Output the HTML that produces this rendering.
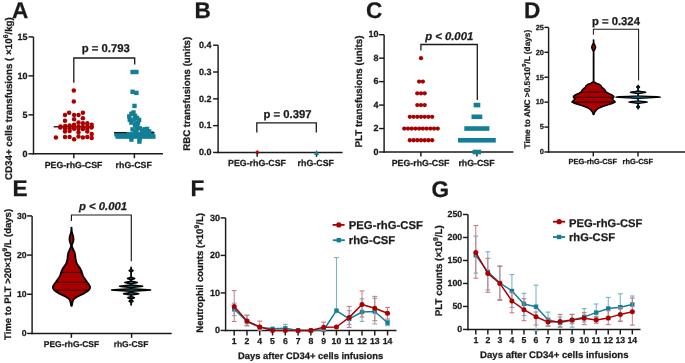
<!DOCTYPE html>
<html><head><meta charset="utf-8"><style>
html,body{margin:0;padding:0;background:#fff;overflow:hidden;}
svg{display:block;will-change:transform;}
text{font-family:"Liberation Sans", sans-serif;text-rendering:geometricPrecision;stroke:#1a1a1a;stroke-width:0.25px;paint-order:stroke;}
</style></head><body>
<svg width="685" height="363" viewBox="0 0 685 363">
<rect width="685" height="363" fill="#fff"/>
<text x="11.9" y="17.9" font-size="22.6" text-anchor="start" font-weight="bold" fill="#1a1a1a">A</text>
<text x="194.6" y="18.1" font-size="22.6" text-anchor="start" font-weight="bold" fill="#1a1a1a">B</text>
<text x="366.0" y="18.0" font-size="22.6" text-anchor="start" font-weight="bold" fill="#1a1a1a">C</text>
<text x="524.0" y="17.7" font-size="22.6" text-anchor="start" font-weight="bold" fill="#1a1a1a">D</text>
<text x="12.4" y="195.8" font-size="22.6" text-anchor="start" font-weight="bold" fill="#1a1a1a">E</text>
<text x="190.5" y="196.2" font-size="22.6" text-anchor="start" font-weight="bold" fill="#1a1a1a">F</text>
<text x="431.5" y="196.5" font-size="22.6" text-anchor="start" font-weight="bold" fill="#1a1a1a">G</text>
<line x1="33.50" y1="36.91" x2="33.50" y2="154.53" stroke="#1a1a1a" stroke-width="1.45"/>
<line x1="28.50" y1="153.80" x2="33.50" y2="153.80" stroke="#1a1a1a" stroke-width="1.45"/>
<text x="27.6" y="156.59" font-size="9.0" text-anchor="end" font-weight="bold" fill="#1a1a1a">0</text>
<line x1="28.50" y1="114.84" x2="33.50" y2="114.84" stroke="#1a1a1a" stroke-width="1.45"/>
<text x="27.6" y="117.62500000000001" font-size="9.0" text-anchor="end" font-weight="bold" fill="#1a1a1a">5</text>
<line x1="28.50" y1="75.87" x2="33.50" y2="75.87" stroke="#1a1a1a" stroke-width="1.45"/>
<text x="27.6" y="78.66000000000001" font-size="9.0" text-anchor="end" font-weight="bold" fill="#1a1a1a">10</text>
<line x1="28.50" y1="36.91" x2="33.50" y2="36.91" stroke="#1a1a1a" stroke-width="1.45"/>
<text x="27.6" y="39.695000000000014" font-size="9.0" text-anchor="end" font-weight="bold" fill="#1a1a1a">15</text>
<line x1="32.77" y1="153.80" x2="162.90" y2="153.80" stroke="#1a1a1a" stroke-width="1.45"/>
<line x1="73.80" y1="153.80" x2="73.80" y2="158.20" stroke="#1a1a1a" stroke-width="1.45"/>
<line x1="134.40" y1="153.80" x2="134.40" y2="158.20" stroke="#1a1a1a" stroke-width="1.45"/>
<text x="73.6" y="168.2" font-size="8.8" text-anchor="middle" font-weight="bold" fill="#1a1a1a">PEG-rhG-CSF</text>
<text x="133.7" y="168.2" font-size="8.8" text-anchor="middle" font-weight="bold" fill="#1a1a1a">rhG-CSF</text>
<text x="11.8" y="98.6" font-size="9.78" text-anchor="middle" font-weight="bold" fill="#1a1a1a" transform="rotate(-90 11.8 98.6)">CD34+ cells transfusions ( ×10<tspan font-size="70%" dy="-0.55em">6</tspan><tspan dy="0.385em">/kg)</tspan></text>
<text x="105.8" y="52.1" font-size="11.3" text-anchor="middle" font-weight="bold" fill="#1a1a1a">p = 0.793</text>
<path d="M73.8 82.8 V58 H134.7 V64.4" fill="none" stroke="#1a1a1a" stroke-width="1.3"/>
<line x1="53.70" y1="126.70" x2="93.90" y2="126.70" stroke="#2a2a2a" stroke-width="1.4"/>
<circle cx="69.10" cy="112.70" r="2.25" fill="#aa0000"/>
<circle cx="82.90" cy="112.70" r="2.25" fill="#aa0000"/>
<circle cx="65.00" cy="114.90" r="2.25" fill="#aa0000"/>
<circle cx="74.10" cy="114.90" r="2.25" fill="#aa0000"/>
<circle cx="78.50" cy="114.90" r="2.25" fill="#aa0000"/>
<circle cx="82.90" cy="118.20" r="2.25" fill="#aa0000"/>
<circle cx="65.00" cy="120.80" r="2.25" fill="#aa0000"/>
<circle cx="74.10" cy="119.30" r="2.25" fill="#aa0000"/>
<circle cx="78.50" cy="122.60" r="2.25" fill="#aa0000"/>
<circle cx="82.90" cy="123.20" r="2.25" fill="#aa0000"/>
<circle cx="87.30" cy="123.20" r="2.25" fill="#aa0000"/>
<circle cx="91.70" cy="124.80" r="2.25" fill="#aa0000"/>
<circle cx="65.20" cy="126.00" r="2.25" fill="#aa0000"/>
<circle cx="69.60" cy="125.40" r="2.25" fill="#aa0000"/>
<circle cx="74.10" cy="124.80" r="2.25" fill="#aa0000"/>
<circle cx="60.30" cy="127.60" r="2.25" fill="#aa0000"/>
<circle cx="78.50" cy="126.50" r="2.25" fill="#aa0000"/>
<circle cx="82.90" cy="127.00" r="2.25" fill="#aa0000"/>
<circle cx="87.30" cy="126.50" r="2.25" fill="#aa0000"/>
<circle cx="74.10" cy="128.70" r="2.25" fill="#aa0000"/>
<circle cx="78.50" cy="129.00" r="2.25" fill="#aa0000"/>
<circle cx="82.90" cy="129.00" r="2.25" fill="#aa0000"/>
<circle cx="87.30" cy="128.70" r="2.25" fill="#aa0000"/>
<circle cx="65.00" cy="131.50" r="2.25" fill="#aa0000"/>
<circle cx="69.60" cy="130.90" r="2.25" fill="#aa0000"/>
<circle cx="91.70" cy="133.90" r="2.25" fill="#aa0000"/>
<circle cx="60.50" cy="126.60" r="2.25" fill="#aa0000"/>
<circle cx="65.00" cy="128.40" r="2.25" fill="#aa0000"/>
<circle cx="69.60" cy="128.40" r="2.25" fill="#aa0000"/>
<circle cx="74.10" cy="126.80" r="2.25" fill="#aa0000"/>
<circle cx="91.50" cy="127.50" r="2.25" fill="#aa0000"/>
<circle cx="87.30" cy="131.50" r="2.25" fill="#aa0000"/>
<circle cx="78.50" cy="132.50" r="2.25" fill="#aa0000"/>
<circle cx="55.90" cy="137.50" r="2.25" fill="#aa0000"/>
<circle cx="65.00" cy="137.00" r="2.25" fill="#aa0000"/>
<circle cx="69.60" cy="137.00" r="2.25" fill="#aa0000"/>
<circle cx="78.50" cy="136.40" r="2.25" fill="#aa0000"/>
<circle cx="82.90" cy="137.50" r="2.25" fill="#aa0000"/>
<circle cx="87.30" cy="137.00" r="2.25" fill="#aa0000"/>
<circle cx="91.70" cy="138.10" r="2.25" fill="#aa0000"/>
<circle cx="74.10" cy="139.20" r="2.25" fill="#aa0000"/>
<circle cx="73.80" cy="90.60" r="2.25" fill="#aa0000"/>
<circle cx="73.80" cy="101.50" r="2.25" fill="#aa0000"/>
<rect x="130.40" y="69.80" width="4.40" height="4.40" fill="#137f96"/>
<rect x="134.20" y="69.80" width="4.40" height="4.40" fill="#137f96"/>
<rect x="130.40" y="89.60" width="4.40" height="4.40" fill="#137f96"/>
<rect x="134.20" y="90.70" width="4.40" height="4.40" fill="#137f96"/>
<rect x="132.30" y="103.70" width="4.40" height="4.40" fill="#137f96"/>
<rect x="129.20" y="111.60" width="4.40" height="4.40" fill="#137f96"/>
<rect x="132.90" y="113.70" width="4.40" height="4.40" fill="#137f96"/>
<rect x="127.10" y="114.20" width="4.40" height="4.40" fill="#137f96"/>
<rect x="127.60" y="117.70" width="4.40" height="4.40" fill="#137f96"/>
<rect x="132.10" y="117.30" width="4.40" height="4.40" fill="#137f96"/>
<rect x="136.90" y="117.70" width="4.40" height="4.40" fill="#137f96"/>
<rect x="129.20" y="120.40" width="4.40" height="4.40" fill="#137f96"/>
<rect x="133.40" y="121.50" width="4.40" height="4.40" fill="#137f96"/>
<rect x="135.00" y="124.60" width="4.40" height="4.40" fill="#137f96"/>
<rect x="137.60" y="126.10" width="4.40" height="4.40" fill="#137f96"/>
<rect x="130.30" y="127.20" width="4.40" height="4.40" fill="#137f96"/>
<rect x="144.80" y="126.70" width="4.40" height="4.40" fill="#137f96"/>
<rect x="146.90" y="129.20" width="4.40" height="4.40" fill="#137f96"/>
<rect x="129.20" y="137.40" width="4.40" height="4.40" fill="#137f96"/>
<rect x="137.20" y="139.40" width="4.40" height="4.40" fill="#137f96"/>
<rect x="137.50" y="136.60" width="4.40" height="4.40" fill="#137f96"/>
<rect x="140.80" y="130.20" width="4.40" height="4.40" fill="#137f96"/>
<rect x="143.80" y="130.40" width="4.40" height="4.40" fill="#137f96"/>
<rect x="149.30" y="131.20" width="4.40" height="4.40" fill="#137f96"/>
<rect x="124.80" y="132.40" width="4.40" height="4.40" fill="#137f96"/>
<rect x="132.80" y="129.80" width="4.40" height="4.40" fill="#137f96"/>
<rect x="131.30" y="110.30" width="4.40" height="4.40" fill="#137f96"/>
<rect x="134.80" y="115.80" width="4.40" height="4.40" fill="#137f96"/>
<rect x="132.80" y="123.30" width="4.40" height="4.40" fill="#137f96"/>
<rect x="135.80" y="120.80" width="4.40" height="4.40" fill="#137f96"/>
<rect x="134.30" y="128.30" width="4.40" height="4.40" fill="#137f96"/>
<rect x="139.80" y="128.60" width="4.40" height="4.40" fill="#137f96"/>
<rect x="142.30" y="127.10" width="4.40" height="4.40" fill="#137f96"/>
<rect x="114.20" y="132.10" width="4.40" height="4.40" fill="#137f96"/>
<rect x="115.40" y="134.40" width="4.40" height="4.40" fill="#137f96"/>
<rect x="117.78" y="132.10" width="4.40" height="4.40" fill="#137f96"/>
<rect x="118.98" y="134.40" width="4.40" height="4.40" fill="#137f96"/>
<rect x="121.36" y="132.10" width="4.40" height="4.40" fill="#137f96"/>
<rect x="122.56" y="134.40" width="4.40" height="4.40" fill="#137f96"/>
<rect x="124.94" y="132.10" width="4.40" height="4.40" fill="#137f96"/>
<rect x="126.14" y="134.40" width="4.40" height="4.40" fill="#137f96"/>
<rect x="128.52" y="132.10" width="4.40" height="4.40" fill="#137f96"/>
<rect x="129.72" y="134.40" width="4.40" height="4.40" fill="#137f96"/>
<rect x="132.10" y="132.10" width="4.40" height="4.40" fill="#137f96"/>
<rect x="133.30" y="134.40" width="4.40" height="4.40" fill="#137f96"/>
<rect x="135.68" y="132.10" width="4.40" height="4.40" fill="#137f96"/>
<rect x="136.88" y="134.40" width="4.40" height="4.40" fill="#137f96"/>
<rect x="139.26" y="132.10" width="4.40" height="4.40" fill="#137f96"/>
<rect x="140.46" y="134.40" width="4.40" height="4.40" fill="#137f96"/>
<rect x="142.84" y="132.10" width="4.40" height="4.40" fill="#137f96"/>
<rect x="144.04" y="134.40" width="4.40" height="4.40" fill="#137f96"/>
<rect x="146.42" y="132.10" width="4.40" height="4.40" fill="#137f96"/>
<rect x="147.62" y="134.40" width="4.40" height="4.40" fill="#137f96"/>
<rect x="150.00" y="132.10" width="4.40" height="4.40" fill="#137f96"/>
<rect x="151.20" y="134.40" width="4.40" height="4.40" fill="#137f96"/>
<line x1="114.00" y1="132.60" x2="126.60" y2="132.60" stroke="#1a1a1a" stroke-width="1.3"/>
<line x1="151.60" y1="132.60" x2="154.40" y2="132.60" stroke="#1a1a1a" stroke-width="1.3"/>
<line x1="218.10" y1="45.21" x2="218.10" y2="153.17" stroke="#1a1a1a" stroke-width="1.45"/>
<line x1="213.10" y1="152.45" x2="218.10" y2="152.45" stroke="#1a1a1a" stroke-width="1.45"/>
<text x="211.4" y="155.23999999999998" font-size="9.0" text-anchor="end" font-weight="bold" fill="#1a1a1a">0.0</text>
<line x1="213.10" y1="125.64" x2="218.10" y2="125.64" stroke="#1a1a1a" stroke-width="1.45"/>
<text x="211.4" y="128.42999999999998" font-size="9.0" text-anchor="end" font-weight="bold" fill="#1a1a1a">0.1</text>
<line x1="213.10" y1="98.83" x2="218.10" y2="98.83" stroke="#1a1a1a" stroke-width="1.45"/>
<text x="211.4" y="101.61999999999999" font-size="9.0" text-anchor="end" font-weight="bold" fill="#1a1a1a">0.2</text>
<line x1="213.10" y1="72.02" x2="218.10" y2="72.02" stroke="#1a1a1a" stroke-width="1.45"/>
<text x="211.4" y="74.81" font-size="9.0" text-anchor="end" font-weight="bold" fill="#1a1a1a">0.3</text>
<line x1="213.10" y1="45.21" x2="218.10" y2="45.21" stroke="#1a1a1a" stroke-width="1.45"/>
<text x="211.4" y="47.99999999999999" font-size="9.0" text-anchor="end" font-weight="bold" fill="#1a1a1a">0.4</text>
<line x1="217.38" y1="152.45" x2="342.60" y2="152.45" stroke="#1a1a1a" stroke-width="1.45"/>
<line x1="257.20" y1="152.45" x2="257.20" y2="156.85" stroke="#1a1a1a" stroke-width="1.45"/>
<line x1="316.50" y1="152.45" x2="316.50" y2="156.85" stroke="#1a1a1a" stroke-width="1.45"/>
<text x="257" y="166.4" font-size="8.85" text-anchor="middle" font-weight="bold" fill="#1a1a1a">PEG-rhG-CSF</text>
<text x="315.8" y="166.4" font-size="8.85" text-anchor="middle" font-weight="bold" fill="#1a1a1a">rhG-CSF</text>
<text x="189.7" y="93.8" font-size="9.7" text-anchor="middle" font-weight="bold" fill="#1a1a1a" transform="rotate(-90 189.7 93.8)">RBC transfusions (units)</text>
<text x="287.6" y="117.5" font-size="11.3" text-anchor="middle" font-weight="bold" fill="#1a1a1a">p = 0.397</text>
<path d="M256.8 132.4 V122.8 H316.3 V132.4" fill="none" stroke="#1a1a1a" stroke-width="1.3"/>
<path d="M257.3 150.1 L259.6 152.45 L257.3 154.8 L255 152.45 Z" fill="#aa0000"/>
<path d="M316.5 149.9 L319 154.9 L314 154.9 Z" fill="#137f96"/>
<line x1="384.10" y1="34.70" x2="384.10" y2="152.72" stroke="#1a1a1a" stroke-width="1.45"/>
<line x1="379.10" y1="152.00" x2="384.10" y2="152.00" stroke="#1a1a1a" stroke-width="1.45"/>
<text x="378.4" y="154.79" font-size="9.0" text-anchor="end" font-weight="bold" fill="#1a1a1a">0</text>
<line x1="379.10" y1="128.54" x2="384.10" y2="128.54" stroke="#1a1a1a" stroke-width="1.45"/>
<text x="378.4" y="131.32999999999998" font-size="9.0" text-anchor="end" font-weight="bold" fill="#1a1a1a">2</text>
<line x1="379.10" y1="105.08" x2="384.10" y2="105.08" stroke="#1a1a1a" stroke-width="1.45"/>
<text x="378.4" y="107.87" font-size="9.0" text-anchor="end" font-weight="bold" fill="#1a1a1a">4</text>
<line x1="379.10" y1="81.62" x2="384.10" y2="81.62" stroke="#1a1a1a" stroke-width="1.45"/>
<text x="378.4" y="84.41000000000001" font-size="9.0" text-anchor="end" font-weight="bold" fill="#1a1a1a">6</text>
<line x1="379.10" y1="58.16" x2="384.10" y2="58.16" stroke="#1a1a1a" stroke-width="1.45"/>
<text x="378.4" y="60.949999999999996" font-size="9.0" text-anchor="end" font-weight="bold" fill="#1a1a1a">8</text>
<line x1="379.10" y1="34.70" x2="384.10" y2="34.70" stroke="#1a1a1a" stroke-width="1.45"/>
<text x="378.4" y="37.48999999999999" font-size="9.0" text-anchor="end" font-weight="bold" fill="#1a1a1a">10</text>
<line x1="383.38" y1="152.00" x2="513.40" y2="152.00" stroke="#1a1a1a" stroke-width="1.45"/>
<line x1="420.90" y1="152.00" x2="420.90" y2="156.40" stroke="#1a1a1a" stroke-width="1.45"/>
<line x1="476.90" y1="152.00" x2="476.90" y2="156.40" stroke="#1a1a1a" stroke-width="1.45"/>
<text x="420.6" y="166.3" font-size="8.8" text-anchor="middle" font-weight="bold" fill="#1a1a1a">PEG-rhG-CSF</text>
<text x="476.5" y="166.3" font-size="8.8" text-anchor="middle" font-weight="bold" fill="#1a1a1a">rhG-CSF</text>
<text x="361.6" y="91.5" font-size="9.8" text-anchor="middle" font-weight="bold" fill="#1a1a1a" transform="rotate(-90 361.6 91.5)">PLT transfusions (units)</text>
<text x="449.2" y="40.1" font-size="11.3" text-anchor="middle" font-weight="bold" font-style="italic" fill="#1a1a1a">p &lt; 0.001</text>
<path d="M420.9 50.6 V44.5 H477.3 V100" fill="none" stroke="#1a1a1a" stroke-width="1.3"/>
<circle cx="421.00" cy="58.16" r="2.15" fill="#aa0000"/>
<circle cx="419.14" cy="81.62" r="2.15" fill="#aa0000"/>
<circle cx="422.86" cy="81.62" r="2.15" fill="#aa0000"/>
<circle cx="417.28" cy="93.35" r="2.15" fill="#aa0000"/>
<circle cx="421.00" cy="93.35" r="2.15" fill="#aa0000"/>
<circle cx="424.72" cy="93.35" r="2.15" fill="#aa0000"/>
<circle cx="417.28" cy="105.08" r="2.15" fill="#aa0000"/>
<circle cx="421.00" cy="105.08" r="2.15" fill="#aa0000"/>
<circle cx="424.72" cy="105.08" r="2.15" fill="#aa0000"/>
<circle cx="409.84" cy="116.81" r="2.15" fill="#aa0000"/>
<circle cx="413.56" cy="116.81" r="2.15" fill="#aa0000"/>
<circle cx="417.28" cy="116.81" r="2.15" fill="#aa0000"/>
<circle cx="421.00" cy="116.81" r="2.15" fill="#aa0000"/>
<circle cx="424.72" cy="116.81" r="2.15" fill="#aa0000"/>
<circle cx="428.44" cy="116.81" r="2.15" fill="#aa0000"/>
<circle cx="432.16" cy="116.81" r="2.15" fill="#aa0000"/>
<circle cx="404.26" cy="128.54" r="2.15" fill="#aa0000"/>
<circle cx="407.98" cy="128.54" r="2.15" fill="#aa0000"/>
<circle cx="411.70" cy="128.54" r="2.15" fill="#aa0000"/>
<circle cx="415.42" cy="128.54" r="2.15" fill="#aa0000"/>
<circle cx="419.14" cy="128.54" r="2.15" fill="#aa0000"/>
<circle cx="422.86" cy="128.54" r="2.15" fill="#aa0000"/>
<circle cx="426.58" cy="128.54" r="2.15" fill="#aa0000"/>
<circle cx="430.30" cy="128.54" r="2.15" fill="#aa0000"/>
<circle cx="434.02" cy="128.54" r="2.15" fill="#aa0000"/>
<circle cx="437.74" cy="128.54" r="2.15" fill="#aa0000"/>
<circle cx="409.84" cy="140.27" r="2.15" fill="#aa0000"/>
<circle cx="413.56" cy="140.27" r="2.15" fill="#aa0000"/>
<circle cx="417.28" cy="140.27" r="2.15" fill="#aa0000"/>
<circle cx="421.00" cy="140.27" r="2.15" fill="#aa0000"/>
<circle cx="424.72" cy="140.27" r="2.15" fill="#aa0000"/>
<circle cx="428.44" cy="140.27" r="2.15" fill="#aa0000"/>
<circle cx="432.16" cy="140.27" r="2.15" fill="#aa0000"/>
<rect x="473.60" y="102.78" width="6.70" height="4.60" fill="#137f96"/>
<rect x="471.50" y="114.51" width="10.80" height="4.60" fill="#137f96"/>
<rect x="464.30" y="126.24" width="25.10" height="4.60" fill="#137f96"/>
<rect x="458.00" y="137.97" width="37.80" height="4.60" fill="#137f96"/>
<rect x="472.60" y="149.70" width="8.50" height="4.60" fill="#137f96"/>
<line x1="548.60" y1="27.40" x2="548.60" y2="152.72" stroke="#1a1a1a" stroke-width="1.45"/>
<line x1="544.40" y1="152.00" x2="548.60" y2="152.00" stroke="#1a1a1a" stroke-width="1.45"/>
<text x="543.9" y="154.294" font-size="7.4" text-anchor="end" font-weight="bold" fill="#1a1a1a">0</text>
<line x1="544.40" y1="127.08" x2="548.60" y2="127.08" stroke="#1a1a1a" stroke-width="1.45"/>
<text x="543.9" y="129.374" font-size="7.4" text-anchor="end" font-weight="bold" fill="#1a1a1a">5</text>
<line x1="544.40" y1="102.16" x2="548.60" y2="102.16" stroke="#1a1a1a" stroke-width="1.45"/>
<text x="543.9" y="104.454" font-size="7.4" text-anchor="end" font-weight="bold" fill="#1a1a1a">10</text>
<line x1="544.40" y1="77.24" x2="548.60" y2="77.24" stroke="#1a1a1a" stroke-width="1.45"/>
<text x="543.9" y="79.53399999999999" font-size="7.4" text-anchor="end" font-weight="bold" fill="#1a1a1a">15</text>
<line x1="544.40" y1="52.32" x2="548.60" y2="52.32" stroke="#1a1a1a" stroke-width="1.45"/>
<text x="543.9" y="54.61399999999999" font-size="7.4" text-anchor="end" font-weight="bold" fill="#1a1a1a">20</text>
<line x1="544.40" y1="27.40" x2="548.60" y2="27.40" stroke="#1a1a1a" stroke-width="1.45"/>
<text x="543.9" y="29.694000000000006" font-size="7.4" text-anchor="end" font-weight="bold" fill="#1a1a1a">25</text>
<line x1="547.88" y1="152.00" x2="685.00" y2="152.00" stroke="#1a1a1a" stroke-width="1.45"/>
<line x1="593.30" y1="152.00" x2="593.30" y2="156.40" stroke="#1a1a1a" stroke-width="1.45"/>
<line x1="638.00" y1="152.00" x2="638.00" y2="156.40" stroke="#1a1a1a" stroke-width="1.45"/>
<text x="592.8" y="164" font-size="7.4" text-anchor="middle" font-weight="bold" fill="#1a1a1a">PEG-rhG-CSF</text>
<text x="637.8" y="164" font-size="7.4" text-anchor="middle" font-weight="bold" fill="#1a1a1a">rhG-CSF</text>
<text x="529.6" y="89.15" font-size="8.25" text-anchor="middle" font-weight="bold" fill="#1a1a1a" transform="rotate(-90 529.6 89.15)">Time to ANC &gt;0.5×10<tspan font-size="70%" dy="-0.55em">9</tspan><tspan dy="0.385em">/L (days)</tspan></text>
<text x="615.9" y="25" font-size="11.3" text-anchor="middle" font-weight="bold" fill="#1a1a1a">p = 0.324</text>
<path d="M593.4 34.7 V29.2 H638.6 V80.5" fill="none" stroke="#1a1a1a" stroke-width="1.05"/>
<path d="M593.70 39.90 L593.75 43.00 L594.60 44.50 L595.60 47.20 L594.60 49.90 L593.75 51.50 L593.75 81.50 L596.10 83.20 L599.60 84.50 L601.40 86.00 L601.80 87.50 L603.80 88.70 L605.10 90.20 L606.00 92.00 L608.60 93.50 L612.10 95.00 L613.80 96.30 L613.60 97.50 L612.20 99.00 L613.80 100.50 L615.20 102.00 L612.10 103.50 L607.10 105.00 L602.60 106.50 L599.10 108.00 L596.40 110.00 L594.80 112.00 L593.90 114.40 L593.30 114.40 L592.40 112.00 L590.80 110.00 L588.10 108.00 L584.60 106.50 L580.10 105.00 L575.10 103.50 L572.00 102.00 L573.40 100.50 L575.00 99.00 L573.60 97.50 L573.40 96.30 L575.10 95.00 L578.60 93.50 L581.20 92.00 L582.10 90.20 L583.40 88.70 L585.40 87.50 L585.80 86.00 L587.60 84.50 L591.10 83.20 L593.45 81.50 L593.45 51.50 L592.60 49.90 L591.60 47.20 L592.60 44.50 L593.45 43.00 L593.50 39.90 Z" fill="#aa0000" stroke="#000" stroke-width="1.5" stroke-linejoin="round"/>
<line x1="582.10" y1="92.10" x2="605.10" y2="92.10" stroke="#300000" stroke-width="1.0"/>
<line x1="574.10" y1="97.30" x2="613.10" y2="97.30" stroke="#300000" stroke-width="1.0"/>
<line x1="573.10" y1="102.10" x2="614.10" y2="102.10" stroke="#300000" stroke-width="1.0"/>
<path d="M638.20 85.20 L638.25 85.40 L638.35 85.70 L638.77 86.22 L639.38 86.67 L639.60 87.00 L639.38 87.33 L638.77 87.78 L638.35 88.30 L638.25 88.60 L638.25 90.70 L638.35 91.00 L641.57 91.52 L644.64 91.97 L645.80 92.30 L644.64 92.62 L641.57 93.08 L638.35 93.60 L638.25 93.90 L638.25 95.50 L638.35 95.80 L648.09 96.32 L656.97 96.77 L660.30 97.10 L656.97 97.42 L648.09 97.88 L638.35 98.40 L638.25 98.70 L638.25 100.50 L638.35 100.80 L642.24 101.32 L645.92 101.77 L647.30 102.10 L645.92 102.42 L642.24 102.88 L638.35 103.40 L638.25 103.70 L638.25 105.30 L638.35 105.60 L638.77 106.12 L639.38 106.58 L639.60 106.90 L639.38 107.23 L638.77 107.68 L638.35 108.20 L638.25 108.50 L638.20 108.80 L638.00 108.80 L637.95 108.50 L637.85 108.20 L637.43 107.68 L636.83 107.23 L636.60 106.90 L636.83 106.58 L637.43 106.12 L637.85 105.60 L637.95 105.30 L637.95 103.70 L637.85 103.40 L633.96 102.88 L630.28 102.42 L628.90 102.10 L630.28 101.77 L633.96 101.32 L637.85 100.80 L637.95 100.50 L637.95 98.70 L637.85 98.40 L628.11 97.88 L619.23 97.42 L615.90 97.10 L619.23 96.77 L628.11 96.32 L637.85 95.80 L637.95 95.50 L637.95 93.90 L637.85 93.60 L634.63 93.08 L631.56 92.62 L630.40 92.30 L631.56 91.97 L634.63 91.52 L637.85 91.00 L637.95 90.70 L637.95 88.60 L637.85 88.30 L637.43 87.78 L636.83 87.33 L636.60 87.00 L636.83 86.67 L637.43 86.22 L637.85 85.70 L637.95 85.40 L638.00 85.20 Z" fill="#137f96" stroke="#000" stroke-width="1.3" stroke-linejoin="round"/>
<line x1="32.10" y1="215.91" x2="32.10" y2="334.18" stroke="#1a1a1a" stroke-width="1.45"/>
<line x1="27.10" y1="333.45" x2="32.10" y2="333.45" stroke="#1a1a1a" stroke-width="1.45"/>
<text x="26.6" y="336.147" font-size="8.7" text-anchor="end" font-weight="bold" fill="#1a1a1a">0</text>
<line x1="27.10" y1="294.27" x2="32.10" y2="294.27" stroke="#1a1a1a" stroke-width="1.45"/>
<text x="26.6" y="296.967" font-size="8.7" text-anchor="end" font-weight="bold" fill="#1a1a1a">10</text>
<line x1="27.10" y1="255.09" x2="32.10" y2="255.09" stroke="#1a1a1a" stroke-width="1.45"/>
<text x="26.6" y="257.787" font-size="8.7" text-anchor="end" font-weight="bold" fill="#1a1a1a">20</text>
<line x1="27.10" y1="215.91" x2="32.10" y2="215.91" stroke="#1a1a1a" stroke-width="1.45"/>
<text x="26.6" y="218.60699999999997" font-size="8.7" text-anchor="end" font-weight="bold" fill="#1a1a1a">30</text>
<line x1="31.38" y1="333.45" x2="171.70" y2="333.45" stroke="#1a1a1a" stroke-width="1.45"/>
<line x1="71.40" y1="333.45" x2="71.40" y2="337.85" stroke="#1a1a1a" stroke-width="1.45"/>
<line x1="131.60" y1="333.45" x2="131.60" y2="337.85" stroke="#1a1a1a" stroke-width="1.45"/>
<text x="71.5" y="347.4" font-size="8.45" text-anchor="middle" font-weight="bold" fill="#1a1a1a">PEG-rhG-CSF</text>
<text x="131" y="347.4" font-size="8.45" text-anchor="middle" font-weight="bold" fill="#1a1a1a">rhG-CSF</text>
<text x="10.6" y="274.4" font-size="9.5" text-anchor="middle" font-weight="bold" fill="#1a1a1a" transform="rotate(-90 10.6 274.4)">Time to PLT &gt;20×10<tspan font-size="70%" dy="-0.55em">9</tspan><tspan dy="0.385em">/L (days)</tspan></text>
<text x="103.1" y="210.2" font-size="11.3" text-anchor="middle" font-weight="bold" font-style="italic" fill="#1a1a1a">p &lt; 0.001</text>
<path d="M71.4 221 V215 H131.3 V261.2" fill="none" stroke="#1a1a1a" stroke-width="1.15"/>
<path d="M71.60 227.70 L71.65 230.00 L72.00 232.50 L72.80 235.00 L73.40 237.50 L73.50 239.60 L73.10 242.00 L72.30 244.00 L71.80 245.80 L72.40 247.70 L73.70 250.60 L74.60 252.50 L75.20 255.40 L75.60 259.30 L76.60 263.20 L78.10 265.60 L79.90 268.00 L81.30 270.90 L82.10 273.10 L83.10 276.20 L85.70 280.00 L87.30 282.30 L89.00 284.50 L90.10 286.80 L89.90 288.50 L88.70 290.20 L86.30 292.00 L83.80 293.60 L80.30 295.20 L77.30 296.70 L74.90 298.20 L73.40 299.70 L72.40 302.50 L71.80 305.80 L71.20 305.80 L70.60 302.50 L69.60 299.70 L68.10 298.20 L65.70 296.70 L62.70 295.20 L59.20 293.60 L56.70 292.00 L54.30 290.20 L53.10 288.50 L52.90 286.80 L54.00 284.50 L55.70 282.30 L57.30 280.00 L59.90 276.20 L60.90 273.10 L61.70 270.90 L63.10 268.00 L64.90 265.60 L66.40 263.20 L67.40 259.30 L67.80 255.40 L68.40 252.50 L69.30 250.60 L70.60 247.70 L71.20 245.80 L70.70 244.00 L69.90 242.00 L69.50 239.60 L69.60 237.50 L70.20 235.00 L71.00 232.50 L71.35 230.00 L71.40 227.70 Z" fill="#aa0000" stroke="#000" stroke-width="1.8" stroke-linejoin="round"/>
<line x1="61.90" y1="272.40" x2="81.10" y2="272.40" stroke="#300000" stroke-width="1.0"/>
<line x1="56.10" y1="282.30" x2="86.90" y2="282.30" stroke="#300000" stroke-width="1.0"/>
<line x1="54.70" y1="290.20" x2="88.30" y2="290.20" stroke="#300000" stroke-width="1.0"/>
<path d="M131.20 267.30 L131.25 269.05 L131.35 269.35 L132.00 269.85 L132.80 270.29 L133.10 270.60 L132.80 270.91 L132.00 271.35 L131.35 271.85 L131.25 272.15 L131.25 276.95 L131.35 277.25 L132.72 277.75 L134.16 278.19 L134.70 278.50 L134.16 278.81 L132.72 279.25 L131.35 279.75 L131.25 280.05 L131.25 280.95 L131.35 281.25 L133.94 281.75 L136.45 282.19 L137.40 282.50 L136.45 282.81 L133.94 283.25 L131.35 283.75 L131.25 284.05 L131.25 284.65 L131.35 284.95 L136.32 285.45 L140.96 285.89 L142.70 286.20 L140.96 286.51 L136.32 286.95 L131.35 287.45 L131.25 287.75 L131.25 288.45 L131.35 288.75 L139.88 289.25 L147.67 289.69 L150.60 290.00 L147.67 290.31 L139.88 290.75 L131.35 291.25 L131.25 291.55 L131.25 292.25 L131.35 292.55 L134.52 293.05 L137.56 293.49 L138.70 293.80 L137.56 294.11 L134.52 294.55 L131.35 295.05 L131.25 295.35 L131.25 296.15 L131.35 296.45 L132.59 296.95 L133.91 297.39 L134.40 297.70 L133.91 298.01 L132.59 298.45 L131.35 298.95 L131.25 299.25 L131.25 299.65 L131.35 299.95 L132.00 300.45 L132.80 300.89 L133.10 301.20 L132.80 301.51 L132.00 301.95 L131.35 302.45 L131.25 302.75 L131.20 305.00 L131.00 305.00 L130.95 302.75 L130.85 302.45 L130.20 301.95 L129.40 301.51 L129.10 301.20 L129.40 300.89 L130.20 300.45 L130.85 299.95 L130.95 299.65 L130.95 299.25 L130.85 298.95 L129.61 298.45 L128.29 298.01 L127.80 297.70 L128.29 297.39 L129.61 296.95 L130.85 296.45 L130.95 296.15 L130.95 295.35 L130.85 295.05 L127.68 294.55 L124.64 294.11 L123.50 293.80 L124.64 293.49 L127.68 293.05 L130.85 292.55 L130.95 292.25 L130.95 291.55 L130.85 291.25 L122.32 290.75 L114.52 290.31 L111.60 290.00 L114.52 289.69 L122.32 289.25 L130.85 288.75 L130.95 288.45 L130.95 287.75 L130.85 287.45 L125.88 286.95 L121.24 286.51 L119.50 286.20 L121.24 285.89 L125.88 285.45 L130.85 284.95 L130.95 284.65 L130.95 284.05 L130.85 283.75 L128.26 283.25 L125.74 282.81 L124.80 282.50 L125.74 282.19 L128.26 281.75 L130.85 281.25 L130.95 280.95 L130.95 280.05 L130.85 279.75 L129.48 279.25 L128.04 278.81 L127.50 278.50 L128.04 278.19 L129.48 277.75 L130.85 277.25 L130.95 276.95 L130.95 272.15 L130.85 271.85 L130.20 271.35 L129.40 270.91 L129.10 270.60 L129.40 270.29 L130.20 269.85 L130.85 269.35 L130.95 269.05 L131.00 267.30 Z" fill="#137f96" stroke="#000" stroke-width="1.5" stroke-linejoin="round"/>
<line x1="225.60" y1="217.89" x2="225.60" y2="331.18" stroke="#1a1a1a" stroke-width="1.45"/>
<line x1="220.60" y1="330.45" x2="225.60" y2="330.45" stroke="#1a1a1a" stroke-width="1.45"/>
<text x="220.0" y="333.24" font-size="9.0" text-anchor="end" font-weight="bold" fill="#1a1a1a">0</text>
<line x1="220.60" y1="292.93" x2="225.60" y2="292.93" stroke="#1a1a1a" stroke-width="1.45"/>
<text x="220.0" y="295.72" font-size="9.0" text-anchor="end" font-weight="bold" fill="#1a1a1a">10</text>
<line x1="220.60" y1="255.41" x2="225.60" y2="255.41" stroke="#1a1a1a" stroke-width="1.45"/>
<text x="220.0" y="258.2" font-size="9.0" text-anchor="end" font-weight="bold" fill="#1a1a1a">20</text>
<line x1="220.60" y1="217.89" x2="225.60" y2="217.89" stroke="#1a1a1a" stroke-width="1.45"/>
<text x="220.0" y="220.67999999999998" font-size="9.0" text-anchor="end" font-weight="bold" fill="#1a1a1a">30</text>
<line x1="224.88" y1="330.45" x2="396.50" y2="330.45" stroke="#1a1a1a" stroke-width="1.45"/>
<line x1="234.20" y1="330.45" x2="234.20" y2="335.45" stroke="#1a1a1a" stroke-width="1.45"/>
<line x1="246.98" y1="330.45" x2="246.98" y2="335.45" stroke="#1a1a1a" stroke-width="1.45"/>
<line x1="259.76" y1="330.45" x2="259.76" y2="335.45" stroke="#1a1a1a" stroke-width="1.45"/>
<line x1="272.54" y1="330.45" x2="272.54" y2="335.45" stroke="#1a1a1a" stroke-width="1.45"/>
<line x1="285.32" y1="330.45" x2="285.32" y2="335.45" stroke="#1a1a1a" stroke-width="1.45"/>
<line x1="298.10" y1="330.45" x2="298.10" y2="335.45" stroke="#1a1a1a" stroke-width="1.45"/>
<line x1="310.88" y1="330.45" x2="310.88" y2="335.45" stroke="#1a1a1a" stroke-width="1.45"/>
<line x1="323.66" y1="330.45" x2="323.66" y2="335.45" stroke="#1a1a1a" stroke-width="1.45"/>
<line x1="336.44" y1="330.45" x2="336.44" y2="335.45" stroke="#1a1a1a" stroke-width="1.45"/>
<line x1="349.22" y1="330.45" x2="349.22" y2="335.45" stroke="#1a1a1a" stroke-width="1.45"/>
<line x1="362.00" y1="330.45" x2="362.00" y2="335.45" stroke="#1a1a1a" stroke-width="1.45"/>
<line x1="374.78" y1="330.45" x2="374.78" y2="335.45" stroke="#1a1a1a" stroke-width="1.45"/>
<line x1="387.56" y1="330.45" x2="387.56" y2="335.45" stroke="#1a1a1a" stroke-width="1.45"/>
<text x="234.2" y="344.1" font-size="8.7" text-anchor="middle" font-weight="bold" fill="#1a1a1a">1</text>
<text x="246.98" y="344.1" font-size="8.7" text-anchor="middle" font-weight="bold" fill="#1a1a1a">2</text>
<text x="259.76" y="344.1" font-size="8.7" text-anchor="middle" font-weight="bold" fill="#1a1a1a">4</text>
<text x="272.53999999999996" y="344.1" font-size="8.7" text-anchor="middle" font-weight="bold" fill="#1a1a1a">5</text>
<text x="285.32" y="344.1" font-size="8.7" text-anchor="middle" font-weight="bold" fill="#1a1a1a">6</text>
<text x="298.09999999999997" y="344.1" font-size="8.7" text-anchor="middle" font-weight="bold" fill="#1a1a1a">7</text>
<text x="310.88" y="344.1" font-size="8.7" text-anchor="middle" font-weight="bold" fill="#1a1a1a">8</text>
<text x="323.65999999999997" y="344.1" font-size="8.7" text-anchor="middle" font-weight="bold" fill="#1a1a1a">9</text>
<text x="336.44" y="344.1" font-size="8.7" text-anchor="middle" font-weight="bold" fill="#1a1a1a">10</text>
<text x="349.21999999999997" y="344.1" font-size="8.7" text-anchor="middle" font-weight="bold" fill="#1a1a1a">11</text>
<text x="362.0" y="344.1" font-size="8.7" text-anchor="middle" font-weight="bold" fill="#1a1a1a">12</text>
<text x="374.78" y="344.1" font-size="8.7" text-anchor="middle" font-weight="bold" fill="#1a1a1a">13</text>
<text x="387.55999999999995" y="344.1" font-size="8.7" text-anchor="middle" font-weight="bold" fill="#1a1a1a">14</text>
<text x="310.6" y="359.0" font-size="9.4" text-anchor="middle" font-weight="bold" fill="#1a1a1a">Days after CD34+ cells infusions</text>
<text x="202.9" y="272.9" font-size="9.6" text-anchor="middle" font-weight="bold" fill="#1a1a1a" transform="rotate(-90 202.9 272.9)">Neutrophil counts (×10<tspan font-size="70%" dy="-0.55em">9</tspan><tspan dy="0.385em">/L)</tspan></text>
<line x1="234.20" y1="303.20" x2="234.20" y2="315.70" stroke="#70b2bf" stroke-width="1.0"/>
<line x1="231.80" y1="303.20" x2="236.60" y2="303.20" stroke="#70b2bf" stroke-width="1.1"/>
<line x1="231.80" y1="315.70" x2="236.60" y2="315.70" stroke="#70b2bf" stroke-width="1.1"/>
<line x1="246.98" y1="315.10" x2="246.98" y2="326.00" stroke="#70b2bf" stroke-width="1.0"/>
<line x1="244.58" y1="315.10" x2="249.38" y2="315.10" stroke="#70b2bf" stroke-width="1.1"/>
<line x1="244.58" y1="326.00" x2="249.38" y2="326.00" stroke="#70b2bf" stroke-width="1.1"/>
<line x1="285.32" y1="324.40" x2="285.32" y2="330.45" stroke="#70b2bf" stroke-width="1.0"/>
<line x1="282.92" y1="324.40" x2="287.72" y2="324.40" stroke="#70b2bf" stroke-width="1.1"/>
<line x1="282.92" y1="330.45" x2="287.72" y2="330.45" stroke="#70b2bf" stroke-width="1.1"/>
<line x1="336.44" y1="257.50" x2="336.44" y2="310.60" stroke="#70b2bf" stroke-width="1.0"/>
<line x1="334.04" y1="257.50" x2="338.84" y2="257.50" stroke="#70b2bf" stroke-width="1.1"/>
<line x1="349.22" y1="310.70" x2="349.22" y2="324.40" stroke="#70b2bf" stroke-width="1.0"/>
<line x1="346.82" y1="310.70" x2="351.62" y2="310.70" stroke="#70b2bf" stroke-width="1.1"/>
<line x1="346.82" y1="324.40" x2="351.62" y2="324.40" stroke="#70b2bf" stroke-width="1.1"/>
<line x1="362.00" y1="298.80" x2="362.00" y2="321.40" stroke="#70b2bf" stroke-width="1.0"/>
<line x1="359.60" y1="298.80" x2="364.40" y2="298.80" stroke="#70b2bf" stroke-width="1.1"/>
<line x1="359.60" y1="321.40" x2="364.40" y2="321.40" stroke="#70b2bf" stroke-width="1.1"/>
<line x1="374.78" y1="298.40" x2="374.78" y2="323.90" stroke="#70b2bf" stroke-width="1.0"/>
<line x1="372.38" y1="298.40" x2="377.18" y2="298.40" stroke="#70b2bf" stroke-width="1.1"/>
<line x1="372.38" y1="323.90" x2="377.18" y2="323.90" stroke="#70b2bf" stroke-width="1.1"/>
<line x1="387.56" y1="320.20" x2="387.56" y2="325.60" stroke="#70b2bf" stroke-width="1.0"/>
<line x1="385.16" y1="320.20" x2="389.96" y2="320.20" stroke="#70b2bf" stroke-width="1.1"/>
<line x1="385.16" y1="325.60" x2="389.96" y2="325.60" stroke="#70b2bf" stroke-width="1.1"/>
<path d="M234.20 309.30 L246.98 321.50 L259.76 327.30 L272.54 328.80 L285.32 328.30 L298.10 330.45 L310.88 330.45 L323.66 330.00 L336.44 310.60 L349.22 318.90 L362.00 312.00 L374.78 311.50 L387.56 322.70" fill="none" stroke="#137f96" stroke-width="1.5" stroke-linejoin="round"/>
<rect x="232.00" y="307.10" width="4.40" height="4.40" fill="#137f96"/>
<rect x="244.78" y="319.30" width="4.40" height="4.40" fill="#137f96"/>
<rect x="257.56" y="325.10" width="4.40" height="4.40" fill="#137f96"/>
<rect x="270.34" y="326.60" width="4.40" height="4.40" fill="#137f96"/>
<rect x="283.12" y="326.10" width="4.40" height="4.40" fill="#137f96"/>
<rect x="295.90" y="328.25" width="4.40" height="4.40" fill="#137f96"/>
<rect x="308.68" y="328.25" width="4.40" height="4.40" fill="#137f96"/>
<rect x="321.46" y="327.80" width="4.40" height="4.40" fill="#137f96"/>
<rect x="334.24" y="308.40" width="4.40" height="4.40" fill="#137f96"/>
<rect x="347.02" y="316.70" width="4.40" height="4.40" fill="#137f96"/>
<rect x="359.80" y="309.80" width="4.40" height="4.40" fill="#137f96"/>
<rect x="372.58" y="309.30" width="4.40" height="4.40" fill="#137f96"/>
<rect x="385.36" y="320.50" width="4.40" height="4.40" fill="#137f96"/>
<line x1="234.20" y1="290.60" x2="234.20" y2="321.50" stroke="#cc7a80" stroke-width="1.0"/>
<line x1="231.80" y1="290.60" x2="236.60" y2="290.60" stroke="#cc7a80" stroke-width="1.1"/>
<line x1="231.80" y1="321.50" x2="236.60" y2="321.50" stroke="#cc7a80" stroke-width="1.1"/>
<line x1="246.98" y1="315.30" x2="246.98" y2="325.40" stroke="#cc7a80" stroke-width="1.0"/>
<line x1="244.58" y1="315.30" x2="249.38" y2="315.30" stroke="#cc7a80" stroke-width="1.1"/>
<line x1="244.58" y1="325.40" x2="249.38" y2="325.40" stroke="#cc7a80" stroke-width="1.1"/>
<line x1="259.76" y1="321.10" x2="259.76" y2="330.45" stroke="#cc7a80" stroke-width="1.0"/>
<line x1="257.36" y1="321.10" x2="262.16" y2="321.10" stroke="#cc7a80" stroke-width="1.1"/>
<line x1="257.36" y1="330.45" x2="262.16" y2="330.45" stroke="#cc7a80" stroke-width="1.1"/>
<line x1="323.66" y1="322.10" x2="323.66" y2="330.45" stroke="#cc7a80" stroke-width="1.0"/>
<line x1="321.26" y1="322.10" x2="326.06" y2="322.10" stroke="#cc7a80" stroke-width="1.1"/>
<line x1="321.26" y1="330.45" x2="326.06" y2="330.45" stroke="#cc7a80" stroke-width="1.1"/>
<line x1="349.22" y1="306.50" x2="349.22" y2="327.40" stroke="#cc7a80" stroke-width="1.0"/>
<line x1="346.82" y1="306.50" x2="351.62" y2="306.50" stroke="#cc7a80" stroke-width="1.1"/>
<line x1="346.82" y1="327.40" x2="351.62" y2="327.40" stroke="#cc7a80" stroke-width="1.1"/>
<line x1="362.00" y1="290.90" x2="362.00" y2="317.00" stroke="#cc7a80" stroke-width="1.0"/>
<line x1="359.60" y1="290.90" x2="364.40" y2="290.90" stroke="#cc7a80" stroke-width="1.1"/>
<line x1="359.60" y1="317.00" x2="364.40" y2="317.00" stroke="#cc7a80" stroke-width="1.1"/>
<line x1="374.78" y1="296.40" x2="374.78" y2="320.70" stroke="#cc7a80" stroke-width="1.0"/>
<line x1="372.38" y1="296.40" x2="377.18" y2="296.40" stroke="#cc7a80" stroke-width="1.1"/>
<line x1="372.38" y1="320.70" x2="377.18" y2="320.70" stroke="#cc7a80" stroke-width="1.1"/>
<line x1="387.56" y1="307.50" x2="387.56" y2="319.00" stroke="#cc7a80" stroke-width="1.0"/>
<line x1="385.16" y1="307.50" x2="389.96" y2="307.50" stroke="#cc7a80" stroke-width="1.1"/>
<line x1="385.16" y1="319.00" x2="389.96" y2="319.00" stroke="#cc7a80" stroke-width="1.1"/>
<path d="M234.20 306.60 L246.98 321.10 L259.76 326.90 L272.54 330.45 L285.32 330.45 L298.10 330.45 L310.88 330.45 L323.66 327.30 L336.44 327.00 L349.22 317.40 L362.00 304.50 L374.78 308.30 L387.56 313.20" fill="none" stroke="#aa0000" stroke-width="1.5" stroke-linejoin="round"/>
<circle cx="234.20" cy="306.60" r="2.5" fill="#aa0000"/>
<circle cx="246.98" cy="321.10" r="2.5" fill="#aa0000"/>
<circle cx="259.76" cy="326.90" r="2.5" fill="#aa0000"/>
<circle cx="272.54" cy="330.45" r="2.5" fill="#aa0000"/>
<circle cx="285.32" cy="330.45" r="2.5" fill="#aa0000"/>
<circle cx="298.10" cy="330.45" r="2.5" fill="#aa0000"/>
<circle cx="310.88" cy="330.45" r="2.5" fill="#aa0000"/>
<circle cx="323.66" cy="327.30" r="2.5" fill="#aa0000"/>
<circle cx="336.44" cy="327.00" r="2.5" fill="#aa0000"/>
<circle cx="349.22" cy="317.40" r="2.5" fill="#aa0000"/>
<circle cx="362.00" cy="304.50" r="2.5" fill="#aa0000"/>
<circle cx="374.78" cy="308.30" r="2.5" fill="#aa0000"/>
<circle cx="387.56" cy="313.20" r="2.5" fill="#aa0000"/>
<line x1="332.60" y1="224.90" x2="344.60" y2="224.90" stroke="#aa0000" stroke-width="1.8"/>
<circle cx="338.80" cy="224.90" r="2.6" fill="#aa0000"/>
<line x1="332.80" y1="240.20" x2="344.80" y2="240.20" stroke="#137f96" stroke-width="1.8"/>
<rect x="336.60" y="238.00" width="4.40" height="4.40" fill="#137f96"/>
<text x="348.8" y="229.4" font-size="11.3" text-anchor="start" font-weight="bold" fill="#1a1a1a">PEG-rhG-CSF</text>
<text x="348.8" y="243.9" font-size="11.3" text-anchor="start" font-weight="bold" fill="#1a1a1a">rhG-CSF</text>
<line x1="467.95" y1="214.50" x2="467.95" y2="330.18" stroke="#1a1a1a" stroke-width="1.45"/>
<line x1="462.95" y1="329.45" x2="467.95" y2="329.45" stroke="#1a1a1a" stroke-width="1.45"/>
<text x="462.2" y="332.178" font-size="8.8" text-anchor="end" font-weight="bold" fill="#1a1a1a">0</text>
<line x1="462.95" y1="306.46" x2="467.95" y2="306.46" stroke="#1a1a1a" stroke-width="1.45"/>
<text x="462.2" y="309.188" font-size="8.8" text-anchor="end" font-weight="bold" fill="#1a1a1a">50</text>
<line x1="462.95" y1="283.47" x2="467.95" y2="283.47" stroke="#1a1a1a" stroke-width="1.45"/>
<text x="462.2" y="286.198" font-size="8.8" text-anchor="end" font-weight="bold" fill="#1a1a1a">100</text>
<line x1="462.95" y1="260.48" x2="467.95" y2="260.48" stroke="#1a1a1a" stroke-width="1.45"/>
<text x="462.2" y="263.208" font-size="8.8" text-anchor="end" font-weight="bold" fill="#1a1a1a">150</text>
<line x1="462.95" y1="237.49" x2="467.95" y2="237.49" stroke="#1a1a1a" stroke-width="1.45"/>
<text x="462.2" y="240.21800000000002" font-size="8.8" text-anchor="end" font-weight="bold" fill="#1a1a1a">200</text>
<line x1="462.95" y1="214.50" x2="467.95" y2="214.50" stroke="#1a1a1a" stroke-width="1.45"/>
<text x="462.2" y="217.228" font-size="8.8" text-anchor="end" font-weight="bold" fill="#1a1a1a">250</text>
<line x1="467.22" y1="329.45" x2="640.50" y2="329.45" stroke="#1a1a1a" stroke-width="1.45"/>
<line x1="475.80" y1="329.45" x2="475.80" y2="334.45" stroke="#1a1a1a" stroke-width="1.45"/>
<line x1="487.84" y1="329.45" x2="487.84" y2="334.45" stroke="#1a1a1a" stroke-width="1.45"/>
<line x1="499.88" y1="329.45" x2="499.88" y2="334.45" stroke="#1a1a1a" stroke-width="1.45"/>
<line x1="511.92" y1="329.45" x2="511.92" y2="334.45" stroke="#1a1a1a" stroke-width="1.45"/>
<line x1="523.96" y1="329.45" x2="523.96" y2="334.45" stroke="#1a1a1a" stroke-width="1.45"/>
<line x1="536.00" y1="329.45" x2="536.00" y2="334.45" stroke="#1a1a1a" stroke-width="1.45"/>
<line x1="548.04" y1="329.45" x2="548.04" y2="334.45" stroke="#1a1a1a" stroke-width="1.45"/>
<line x1="560.08" y1="329.45" x2="560.08" y2="334.45" stroke="#1a1a1a" stroke-width="1.45"/>
<line x1="572.12" y1="329.45" x2="572.12" y2="334.45" stroke="#1a1a1a" stroke-width="1.45"/>
<line x1="584.16" y1="329.45" x2="584.16" y2="334.45" stroke="#1a1a1a" stroke-width="1.45"/>
<line x1="596.20" y1="329.45" x2="596.20" y2="334.45" stroke="#1a1a1a" stroke-width="1.45"/>
<line x1="608.24" y1="329.45" x2="608.24" y2="334.45" stroke="#1a1a1a" stroke-width="1.45"/>
<line x1="620.28" y1="329.45" x2="620.28" y2="334.45" stroke="#1a1a1a" stroke-width="1.45"/>
<line x1="632.32" y1="329.45" x2="632.32" y2="334.45" stroke="#1a1a1a" stroke-width="1.45"/>
<text x="475.8" y="342.9" font-size="8.7" text-anchor="middle" font-weight="bold" fill="#1a1a1a">1</text>
<text x="487.84000000000003" y="342.9" font-size="8.7" text-anchor="middle" font-weight="bold" fill="#1a1a1a">2</text>
<text x="499.88" y="342.9" font-size="8.7" text-anchor="middle" font-weight="bold" fill="#1a1a1a">3</text>
<text x="511.92" y="342.9" font-size="8.7" text-anchor="middle" font-weight="bold" fill="#1a1a1a">4</text>
<text x="523.96" y="342.9" font-size="8.7" text-anchor="middle" font-weight="bold" fill="#1a1a1a">5</text>
<text x="536.0" y="342.9" font-size="8.7" text-anchor="middle" font-weight="bold" fill="#1a1a1a">6</text>
<text x="548.04" y="342.9" font-size="8.7" text-anchor="middle" font-weight="bold" fill="#1a1a1a">7</text>
<text x="560.08" y="342.9" font-size="8.7" text-anchor="middle" font-weight="bold" fill="#1a1a1a">8</text>
<text x="572.12" y="342.9" font-size="8.7" text-anchor="middle" font-weight="bold" fill="#1a1a1a">9</text>
<text x="584.16" y="342.9" font-size="8.7" text-anchor="middle" font-weight="bold" fill="#1a1a1a">10</text>
<text x="596.2" y="342.9" font-size="8.7" text-anchor="middle" font-weight="bold" fill="#1a1a1a">11</text>
<text x="608.24" y="342.9" font-size="8.7" text-anchor="middle" font-weight="bold" fill="#1a1a1a">12</text>
<text x="620.28" y="342.9" font-size="8.7" text-anchor="middle" font-weight="bold" fill="#1a1a1a">13</text>
<text x="632.3199999999999" y="342.9" font-size="8.7" text-anchor="middle" font-weight="bold" fill="#1a1a1a">14</text>
<text x="554.3" y="357.9" font-size="9.6" text-anchor="middle" font-weight="bold" fill="#1a1a1a">Days after CD34+ cells infusions</text>
<text x="441.7" y="270.7" font-size="9.8" text-anchor="middle" font-weight="bold" fill="#1a1a1a" transform="rotate(-90 441.7 270.7)">PLT counts (×10<tspan font-size="70%" dy="-0.55em">9</tspan><tspan dy="0.385em">/L)</tspan></text>
<line x1="475.80" y1="236.10" x2="475.80" y2="273.10" stroke="#70b2bf" stroke-width="1.0"/>
<line x1="473.40" y1="236.10" x2="478.20" y2="236.10" stroke="#70b2bf" stroke-width="1.1"/>
<line x1="473.40" y1="273.10" x2="478.20" y2="273.10" stroke="#70b2bf" stroke-width="1.1"/>
<line x1="487.84" y1="251.80" x2="487.84" y2="290.00" stroke="#70b2bf" stroke-width="1.0"/>
<line x1="485.44" y1="251.80" x2="490.24" y2="251.80" stroke="#70b2bf" stroke-width="1.1"/>
<line x1="485.44" y1="290.00" x2="490.24" y2="290.00" stroke="#70b2bf" stroke-width="1.1"/>
<line x1="499.88" y1="266.50" x2="499.88" y2="299.50" stroke="#70b2bf" stroke-width="1.0"/>
<line x1="497.48" y1="266.50" x2="502.28" y2="266.50" stroke="#70b2bf" stroke-width="1.1"/>
<line x1="497.48" y1="299.50" x2="502.28" y2="299.50" stroke="#70b2bf" stroke-width="1.1"/>
<line x1="511.92" y1="274.60" x2="511.92" y2="307.40" stroke="#70b2bf" stroke-width="1.0"/>
<line x1="509.52" y1="274.60" x2="514.32" y2="274.60" stroke="#70b2bf" stroke-width="1.1"/>
<line x1="509.52" y1="307.40" x2="514.32" y2="307.40" stroke="#70b2bf" stroke-width="1.1"/>
<line x1="523.96" y1="293.30" x2="523.96" y2="315.60" stroke="#70b2bf" stroke-width="1.0"/>
<line x1="521.56" y1="293.30" x2="526.36" y2="293.30" stroke="#70b2bf" stroke-width="1.1"/>
<line x1="521.56" y1="315.60" x2="526.36" y2="315.60" stroke="#70b2bf" stroke-width="1.1"/>
<line x1="536.00" y1="285.10" x2="536.00" y2="330.80" stroke="#70b2bf" stroke-width="1.0"/>
<line x1="533.60" y1="285.10" x2="538.40" y2="285.10" stroke="#70b2bf" stroke-width="1.1"/>
<line x1="533.60" y1="330.80" x2="538.40" y2="330.80" stroke="#70b2bf" stroke-width="1.1"/>
<line x1="548.04" y1="312.10" x2="548.04" y2="326.00" stroke="#70b2bf" stroke-width="1.0"/>
<line x1="545.64" y1="312.10" x2="550.44" y2="312.10" stroke="#70b2bf" stroke-width="1.1"/>
<line x1="545.64" y1="326.00" x2="550.44" y2="326.00" stroke="#70b2bf" stroke-width="1.1"/>
<line x1="560.08" y1="317.00" x2="560.08" y2="326.90" stroke="#70b2bf" stroke-width="1.0"/>
<line x1="557.68" y1="317.00" x2="562.48" y2="317.00" stroke="#70b2bf" stroke-width="1.1"/>
<line x1="557.68" y1="326.90" x2="562.48" y2="326.90" stroke="#70b2bf" stroke-width="1.1"/>
<line x1="572.12" y1="314.40" x2="572.12" y2="327.20" stroke="#70b2bf" stroke-width="1.0"/>
<line x1="569.72" y1="314.40" x2="574.52" y2="314.40" stroke="#70b2bf" stroke-width="1.1"/>
<line x1="569.72" y1="327.20" x2="574.52" y2="327.20" stroke="#70b2bf" stroke-width="1.1"/>
<line x1="584.16" y1="308.50" x2="584.16" y2="321.90" stroke="#70b2bf" stroke-width="1.0"/>
<line x1="581.76" y1="308.50" x2="586.56" y2="308.50" stroke="#70b2bf" stroke-width="1.1"/>
<line x1="581.76" y1="321.90" x2="586.56" y2="321.90" stroke="#70b2bf" stroke-width="1.1"/>
<line x1="596.20" y1="304.00" x2="596.20" y2="317.40" stroke="#70b2bf" stroke-width="1.0"/>
<line x1="593.80" y1="304.00" x2="598.60" y2="304.00" stroke="#70b2bf" stroke-width="1.1"/>
<line x1="593.80" y1="317.40" x2="598.60" y2="317.40" stroke="#70b2bf" stroke-width="1.1"/>
<line x1="608.24" y1="297.40" x2="608.24" y2="319.70" stroke="#70b2bf" stroke-width="1.0"/>
<line x1="605.84" y1="297.40" x2="610.64" y2="297.40" stroke="#70b2bf" stroke-width="1.1"/>
<line x1="605.84" y1="319.70" x2="610.64" y2="319.70" stroke="#70b2bf" stroke-width="1.1"/>
<line x1="620.28" y1="293.80" x2="620.28" y2="321.00" stroke="#70b2bf" stroke-width="1.0"/>
<line x1="617.88" y1="293.80" x2="622.68" y2="293.80" stroke="#70b2bf" stroke-width="1.1"/>
<line x1="617.88" y1="321.00" x2="622.68" y2="321.00" stroke="#70b2bf" stroke-width="1.1"/>
<line x1="632.32" y1="296.00" x2="632.32" y2="311.10" stroke="#70b2bf" stroke-width="1.0"/>
<line x1="629.92" y1="296.00" x2="634.72" y2="296.00" stroke="#70b2bf" stroke-width="1.1"/>
<line x1="629.92" y1="311.10" x2="634.72" y2="311.10" stroke="#70b2bf" stroke-width="1.1"/>
<path d="M475.80 255.30 L487.84 271.90 L499.88 283.00 L511.92 291.00 L523.96 303.90 L536.00 306.70 L548.04 319.80 L560.08 322.80 L572.12 320.10 L584.16 316.90 L596.20 312.60 L608.24 308.50 L620.28 307.20 L632.32 304.50" fill="none" stroke="#137f96" stroke-width="1.5" stroke-linejoin="round"/>
<rect x="473.60" y="253.10" width="4.40" height="4.40" fill="#137f96"/>
<rect x="485.64" y="269.70" width="4.40" height="4.40" fill="#137f96"/>
<rect x="497.68" y="280.80" width="4.40" height="4.40" fill="#137f96"/>
<rect x="509.72" y="288.80" width="4.40" height="4.40" fill="#137f96"/>
<rect x="521.76" y="301.70" width="4.40" height="4.40" fill="#137f96"/>
<rect x="533.80" y="304.50" width="4.40" height="4.40" fill="#137f96"/>
<rect x="545.84" y="317.60" width="4.40" height="4.40" fill="#137f96"/>
<rect x="557.88" y="320.60" width="4.40" height="4.40" fill="#137f96"/>
<rect x="569.92" y="317.90" width="4.40" height="4.40" fill="#137f96"/>
<rect x="581.96" y="314.70" width="4.40" height="4.40" fill="#137f96"/>
<rect x="594.00" y="310.40" width="4.40" height="4.40" fill="#137f96"/>
<rect x="606.04" y="306.30" width="4.40" height="4.40" fill="#137f96"/>
<rect x="618.08" y="305.00" width="4.40" height="4.40" fill="#137f96"/>
<rect x="630.12" y="302.30" width="4.40" height="4.40" fill="#137f96"/>
<line x1="475.80" y1="225.50" x2="475.80" y2="278.20" stroke="#cc7a80" stroke-width="1.0"/>
<line x1="473.40" y1="225.50" x2="478.20" y2="225.50" stroke="#cc7a80" stroke-width="1.1"/>
<line x1="473.40" y1="278.20" x2="478.20" y2="278.20" stroke="#cc7a80" stroke-width="1.1"/>
<line x1="487.84" y1="258.30" x2="487.84" y2="292.30" stroke="#cc7a80" stroke-width="1.0"/>
<line x1="485.44" y1="258.30" x2="490.24" y2="258.30" stroke="#cc7a80" stroke-width="1.1"/>
<line x1="485.44" y1="292.30" x2="490.24" y2="292.30" stroke="#cc7a80" stroke-width="1.1"/>
<line x1="499.88" y1="265.90" x2="499.88" y2="300.40" stroke="#cc7a80" stroke-width="1.0"/>
<line x1="497.48" y1="265.90" x2="502.28" y2="265.90" stroke="#cc7a80" stroke-width="1.1"/>
<line x1="497.48" y1="300.40" x2="502.28" y2="300.40" stroke="#cc7a80" stroke-width="1.1"/>
<line x1="511.92" y1="292.20" x2="511.92" y2="312.80" stroke="#cc7a80" stroke-width="1.0"/>
<line x1="509.52" y1="292.20" x2="514.32" y2="292.20" stroke="#cc7a80" stroke-width="1.1"/>
<line x1="509.52" y1="312.80" x2="514.32" y2="312.80" stroke="#cc7a80" stroke-width="1.1"/>
<line x1="523.96" y1="298.70" x2="523.96" y2="320.70" stroke="#cc7a80" stroke-width="1.0"/>
<line x1="521.56" y1="298.70" x2="526.36" y2="298.70" stroke="#cc7a80" stroke-width="1.1"/>
<line x1="521.56" y1="320.70" x2="526.36" y2="320.70" stroke="#cc7a80" stroke-width="1.1"/>
<line x1="536.00" y1="312.00" x2="536.00" y2="325.00" stroke="#cc7a80" stroke-width="1.0"/>
<line x1="533.60" y1="312.00" x2="538.40" y2="312.00" stroke="#cc7a80" stroke-width="1.1"/>
<line x1="533.60" y1="325.00" x2="538.40" y2="325.00" stroke="#cc7a80" stroke-width="1.1"/>
<line x1="548.04" y1="319.10" x2="548.04" y2="326.10" stroke="#cc7a80" stroke-width="1.0"/>
<line x1="545.64" y1="319.10" x2="550.44" y2="319.10" stroke="#cc7a80" stroke-width="1.1"/>
<line x1="545.64" y1="326.10" x2="550.44" y2="326.10" stroke="#cc7a80" stroke-width="1.1"/>
<line x1="560.08" y1="314.40" x2="560.08" y2="327.20" stroke="#cc7a80" stroke-width="1.0"/>
<line x1="557.68" y1="314.40" x2="562.48" y2="314.40" stroke="#cc7a80" stroke-width="1.1"/>
<line x1="557.68" y1="327.20" x2="562.48" y2="327.20" stroke="#cc7a80" stroke-width="1.1"/>
<line x1="572.12" y1="314.40" x2="572.12" y2="323.70" stroke="#cc7a80" stroke-width="1.0"/>
<line x1="569.72" y1="314.40" x2="574.52" y2="314.40" stroke="#cc7a80" stroke-width="1.1"/>
<line x1="569.72" y1="323.70" x2="574.52" y2="323.70" stroke="#cc7a80" stroke-width="1.1"/>
<line x1="584.16" y1="312.60" x2="584.16" y2="324.60" stroke="#cc7a80" stroke-width="1.0"/>
<line x1="581.76" y1="312.60" x2="586.56" y2="312.60" stroke="#cc7a80" stroke-width="1.1"/>
<line x1="581.76" y1="324.60" x2="586.56" y2="324.60" stroke="#cc7a80" stroke-width="1.1"/>
<line x1="596.20" y1="316.50" x2="596.20" y2="323.30" stroke="#cc7a80" stroke-width="1.0"/>
<line x1="593.80" y1="316.50" x2="598.60" y2="316.50" stroke="#cc7a80" stroke-width="1.1"/>
<line x1="593.80" y1="323.30" x2="598.60" y2="323.30" stroke="#cc7a80" stroke-width="1.1"/>
<line x1="608.24" y1="310.80" x2="608.24" y2="324.60" stroke="#cc7a80" stroke-width="1.0"/>
<line x1="605.84" y1="310.80" x2="610.64" y2="310.80" stroke="#cc7a80" stroke-width="1.1"/>
<line x1="605.84" y1="324.60" x2="610.64" y2="324.60" stroke="#cc7a80" stroke-width="1.1"/>
<line x1="620.28" y1="307.60" x2="620.28" y2="321.50" stroke="#cc7a80" stroke-width="1.0"/>
<line x1="617.88" y1="307.60" x2="622.68" y2="307.60" stroke="#cc7a80" stroke-width="1.1"/>
<line x1="617.88" y1="321.50" x2="622.68" y2="321.50" stroke="#cc7a80" stroke-width="1.1"/>
<line x1="632.32" y1="298.10" x2="632.32" y2="325.10" stroke="#cc7a80" stroke-width="1.0"/>
<line x1="629.92" y1="298.10" x2="634.72" y2="298.10" stroke="#cc7a80" stroke-width="1.1"/>
<line x1="629.92" y1="325.10" x2="634.72" y2="325.10" stroke="#cc7a80" stroke-width="1.1"/>
<path d="M475.80 252.50 L487.84 273.50 L499.88 283.40 L511.92 301.00 L523.96 309.70 L536.00 316.70 L548.04 322.10 L560.08 321.50 L572.12 320.10 L584.16 318.30 L596.20 320.10 L608.24 317.90 L620.28 314.40 L632.32 311.70" fill="none" stroke="#aa0000" stroke-width="1.5" stroke-linejoin="round"/>
<circle cx="475.80" cy="252.50" r="2.5" fill="#aa0000"/>
<circle cx="487.84" cy="273.50" r="2.5" fill="#aa0000"/>
<circle cx="499.88" cy="283.40" r="2.5" fill="#aa0000"/>
<circle cx="511.92" cy="301.00" r="2.5" fill="#aa0000"/>
<circle cx="523.96" cy="309.70" r="2.5" fill="#aa0000"/>
<circle cx="536.00" cy="316.70" r="2.5" fill="#aa0000"/>
<circle cx="548.04" cy="322.10" r="2.5" fill="#aa0000"/>
<circle cx="560.08" cy="321.50" r="2.5" fill="#aa0000"/>
<circle cx="572.12" cy="320.10" r="2.5" fill="#aa0000"/>
<circle cx="584.16" cy="318.30" r="2.5" fill="#aa0000"/>
<circle cx="596.20" cy="320.10" r="2.5" fill="#aa0000"/>
<circle cx="608.24" cy="317.90" r="2.5" fill="#aa0000"/>
<circle cx="620.28" cy="314.40" r="2.5" fill="#aa0000"/>
<circle cx="632.32" cy="311.70" r="2.5" fill="#aa0000"/>
<line x1="553.00" y1="221.70" x2="565.10" y2="221.70" stroke="#aa0000" stroke-width="1.8"/>
<circle cx="559.20" cy="221.70" r="2.6" fill="#aa0000"/>
<line x1="553.00" y1="237.00" x2="565.10" y2="237.00" stroke="#137f96" stroke-width="1.8"/>
<rect x="556.90" y="234.80" width="4.40" height="4.40" fill="#137f96"/>
<text x="569.0" y="226.5" font-size="11.2" text-anchor="start" font-weight="bold" fill="#1a1a1a">PEG-rhG-CSF</text>
<text x="569.0" y="241" font-size="11.2" text-anchor="start" font-weight="bold" fill="#1a1a1a">rhG-CSF</text>
</svg>
</body></html>
